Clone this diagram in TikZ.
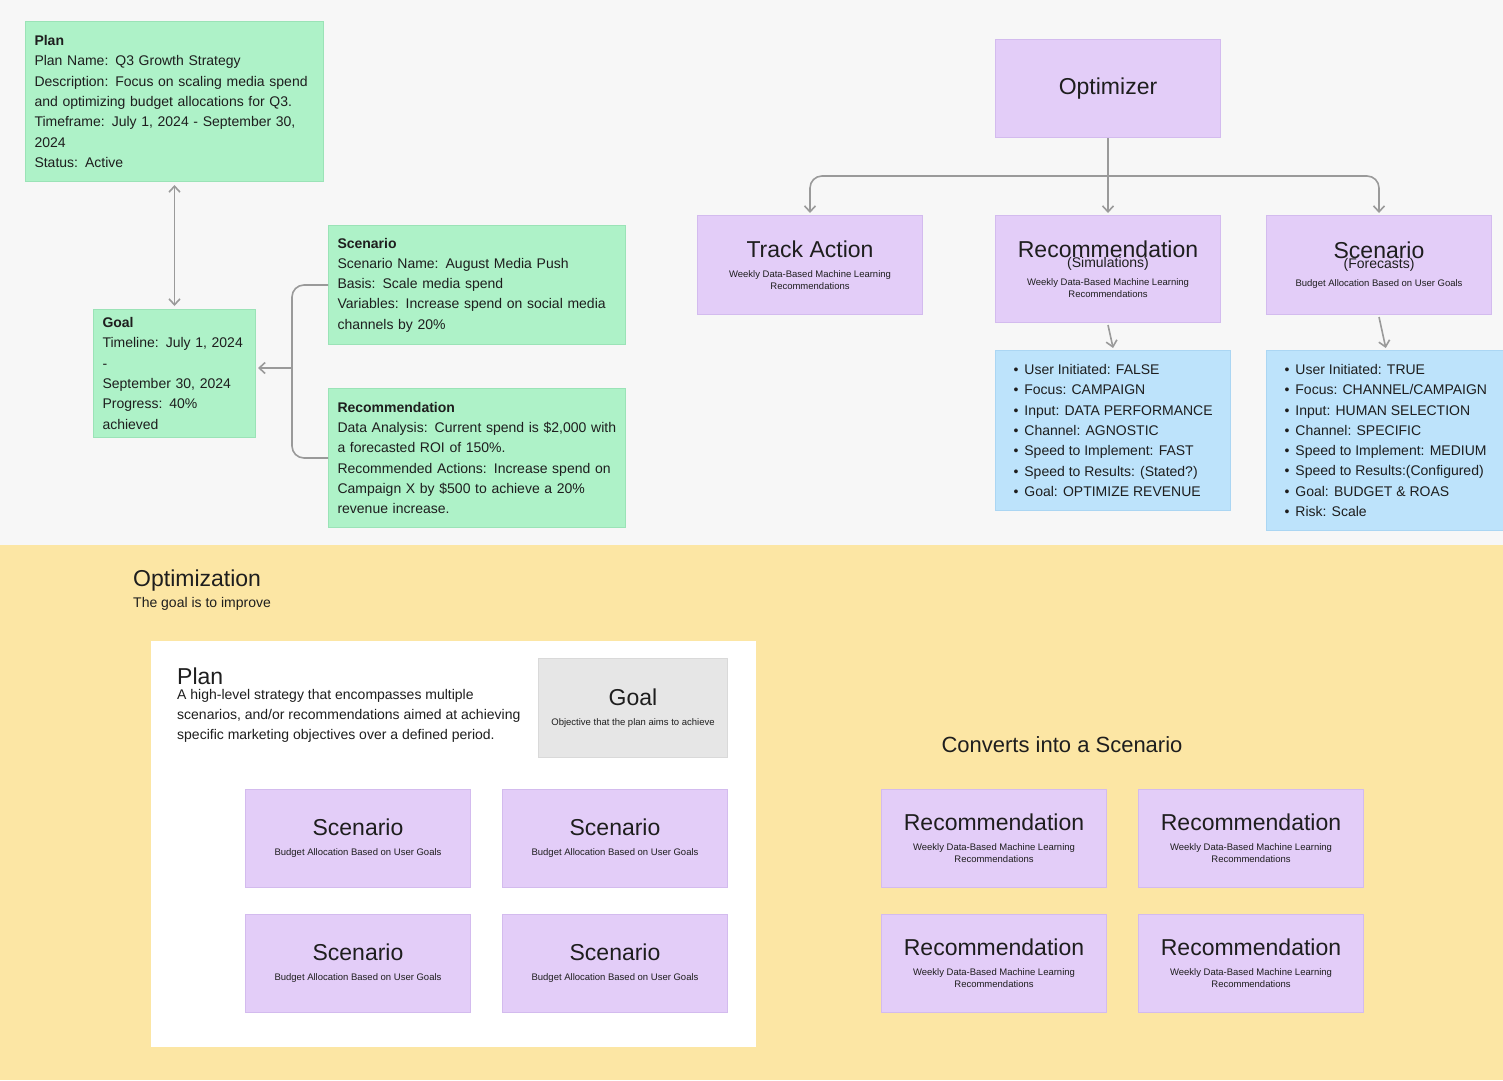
\documentclass[tikz,border=0pt]{standalone}
\usepackage{fontspec}
\setmainfont{Liberation Sans}
\usetikzlibrary{arrows.meta,calc}
\newcommand{\fA}{\fontsize{23}{28}\selectfont}
\newcommand{\fB}{\fontsize{14}{20}\selectfont}
\newcommand{\fC}{\fontsize{9.5}{13.5}\selectfont}
\begin{document}
\definecolor{topbg}{HTML}{F7F7F7}
\definecolor{ybg}{HTML}{FCE6A4}
\definecolor{grn}{HTML}{AEF2C8}
\definecolor{grnd}{HTML}{9BE3B7}
\definecolor{purp}{HTML}{E3CDF8}
\definecolor{purpd}{HTML}{D3BBEE}
\definecolor{blu}{HTML}{BDE3FB}
\definecolor{blud}{HTML}{ABD6F3}
\definecolor{gry}{HTML}{E6E6E6}
\definecolor{gryd}{HTML}{D9D9D9}
\definecolor{conn}{HTML}{9A9A9A}
\definecolor{txt}{HTML}{1E1E1E}
\begin{tikzpicture}[x=1pt,y=-1pt,
  base/.style={anchor=north west,inner sep=0pt,line width=1pt,text=txt},
  gbox/.style={base,fill=grn,draw=grnd,align=left,inner xsep=9pt,inner ysep=8pt,font=\fontsize{14}{20.3}\selectfont},
  pbox/.style={base,fill=purp,draw=purpd,align=center,minimum width=225pt},
  bbox/.style={base,fill=blu,draw=blud,align=left,inner xsep=18pt,inner ysep=9pt,minimum width=225pt,font=\fontsize{14}{20.3}\selectfont},
  arr/.style={draw=conn,line width=1.6pt,->,>={Straight Barb[length=6pt,width=11pt]}},
]
\path[use as bounding box] (0,0) rectangle (1503,1080);
\fill[topbg] (0,0) rectangle (1503,545);
\fill[ybg] (0,545) rectangle (1503,1080);

% top-left green
\node[gbox,minimum width=298pt,minimum height=160pt,text width=280pt] (plan) at (25,21) {\textbf{Plan}\\Plan Name: Q3 Growth Strategy\\Description: Focus on scaling media spend\\and optimizing budget allocations for Q3.\\Timeframe: July 1, 2024 - September 30,\\2024\\Status: Active};
\node[gbox,minimum width=162pt,minimum height=118pt,text width=144pt] (goal) at (93,309) {\textbf{Goal}\\Timeline: July 1, 2024 -\\September 30, 2024\\Progress: 40\%\\achieved};
\node[gbox,minimum width=297pt,minimum height=119pt,text width=279pt] (scen) at (328,225) {\textbf{Scenario}\\Scenario Name: August Media Push\\Basis: Scale media spend\\Variables: Increase spend on social media\\channels by 20\%};
\node[gbox,minimum width=297pt,minimum height=139pt,text width=279pt] (rec) at (328,388) {\textbf{Recommendation}\\Data Analysis: Current spend is \$2,000 with\\a forecasted ROI of 150\%.\\Recommended Actions: Increase spend on\\Campaign X by \$500 to achieve a 20\%\\revenue increase.};
\draw[arr,<->] ($(plan.south)+(0,3)$) -- ($(goal.north)+(0,-3)$);
\coordinate (br) at (292,368);
\draw[draw=conn,line width=1.6pt,rounded corners=12pt] (scen.west|-0,285) -- (292,285) -- (292,458) -- (rec.west|-0,458);
\draw[arr] (br) -- ($(goal.east|-br)+(2,0)$);

% optimizer tree
\node[pbox,minimum height=98pt,font=\fA] (opt) at (995,39) {Optimizer};
\node[pbox,minimum height=99pt] (ta) at (697,215) {\fA Track Action\\[8pt]\fC Weekly Data-Based Machine Learning\\\fC Recommendations};
\node[pbox,minimum height=107pt] (rs) at (995,215) {\fA Recommendation\\[-2pt]\fB (Simulations)\\[6pt]\fC Weekly Data-Based Machine Learning\\\fC Recommendations};
\node[pbox,minimum height=99pt] (sf) at (1266,215) {\fA Scenario\\[-2pt]\fB (Forecasts)\\[6pt]\fC Budget Allocation Based on User Goals};
\coordinate (j) at (1108,176);
\draw[draw=conn,line width=1.6pt] (opt.south) -- (j);
\draw[arr,rounded corners=12pt] (j) -- (ta.north|-j) -- ($(ta.north)+(0,-2)$);
\draw[arr,rounded corners=12pt] (j) -- (sf.north|-j) -- ($(sf.north)+(0,-2)$);
\draw[arr] (j) -- ($(rs.north)+(0,-2)$);

\node[bbox,minimum height=160pt] (b1) at (995,350) {\textbullet\hspace{6pt}User Initiated: FALSE\\\textbullet\hspace{6pt}Focus: CAMPAIGN\\\textbullet\hspace{6pt}Input: DATA PERFORMANCE\\\textbullet\hspace{6pt}Channel: AGNOSTIC\\\textbullet\hspace{6pt}Speed to Implement: FAST\\\textbullet\hspace{6pt}Speed to Results: (Stated?)\\\textbullet\hspace{6pt}Goal: OPTIMIZE REVENUE};
\node[bbox,minimum height=180pt] (b2) at (1266,350) {\textbullet\hspace{6pt}User Initiated: TRUE\\\textbullet\hspace{6pt}Focus: CHANNEL/CAMPAIGN\\\textbullet\hspace{6pt}Input: HUMAN SELECTION\\\textbullet\hspace{6pt}Channel: SPECIFIC\\\textbullet\hspace{6pt}Speed to Implement: MEDIUM\\\textbullet\hspace{6pt}Speed to Results:(Configured)\\\textbullet\hspace{6pt}Goal: BUDGET \& ROAS\\\textbullet\hspace{6pt}Risk: Scale};
\draw[arr] ($(rs.south)+(0,2)$) -- ($(b1.north)+(0,-2)$);
\draw[arr] ($(sf.south)+(0,2)$) -- ($(b2.north)+(0,-2)$);

% bottom
\node[anchor=west,inner sep=0,text=txt,font=\fA] (ot) at (133,581) {Optimization};
\node[anchor=west,inner sep=0,text=txt,font=\fontsize{14}{18}\selectfont] (os) at (133,604) {The goal is to improve};
\node[base,fill=white,draw=none,minimum width=605pt,minimum height=406pt] (panel) at (150,640) {};
\node[anchor=west,inner sep=0,text=txt,font=\fA] (pt) at (177,676) {Plan};
\node[anchor=north west,inner sep=0,text=txt,align=left,font=\fontsize{14}{20.3}\selectfont] (pd) at (177,689) {A high-level strategy that encompasses multiple\\scenarios, and/or recommendations aimed at achieving\\specific marketing objectives over a defined period.};
\node[base,fill=gry,draw=gryd,align=center,minimum width=189pt,minimum height=99pt] (gg) at (538,658) {\fA Goal\\[8pt]\fC Objective that the plan aims to achieve};
\foreach \x/\y/\n in {245/789/s1,502/789/s2,245/914/s3,502/914/s4}{
  \node[pbox,minimum height=98pt] (\n) at (\x,\y) {\fA Scenario\\[8pt]\fC Budget Allocation Based on User Goals};
}
\node[text=txt,inner sep=0,font=\fontsize{22}{26}\selectfont] (cv) at (1062,745) {Converts into a Scenario};
\foreach \x/\y/\n in {881/789/r1,1138/789/r2,881/914/r3,1138/914/r4}{
  \node[pbox,minimum height=98pt] (\n) at (\x,\y) {\fA Recommendation\\[8pt]\fC Weekly Data-Based Machine Learning\\\fC Recommendations};
}
\end{tikzpicture}
\end{document}
